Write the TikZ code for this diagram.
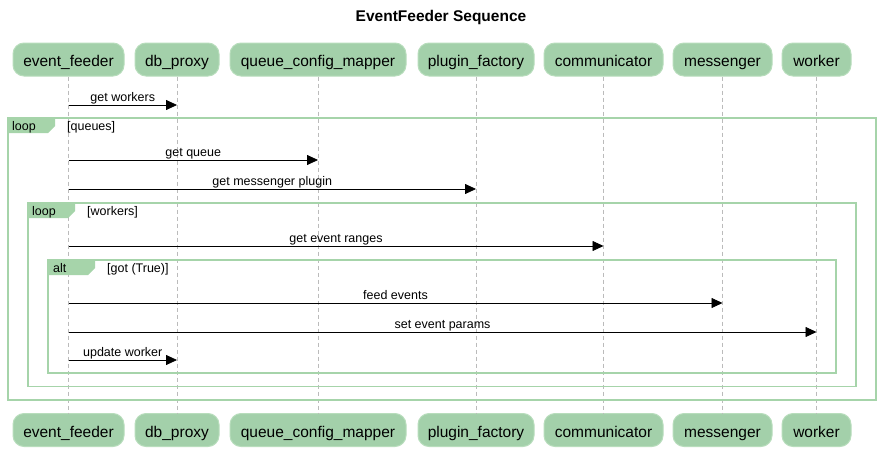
\documentclass[tikz,border=0pt]{standalone}
\usepackage{fontspec}
\setmainfont{Liberation Sans}
\usetikzlibrary{arrows.meta}
\definecolor{partfill}{HTML}{A3D0AA}
\definecolor{partline}{HTML}{B8DDBC}
\definecolor{framecol}{HTML}{A6D4AA}
\definecolor{lifecol}{HTML}{BBBBBB}
\tikzset{
  part/.style={draw=partline, line width=1pt, fill=partfill, rounded corners=11pt,
    minimum height=33pt, inner sep=0pt, text height=16pt, text depth=2pt,
    font=\fontsize{15.5}{15.5}\selectfont},
  lifeline/.style={draw=lifecol, dash pattern=on 4pt off 3pt, line width=0.8pt},
  msg/.style={draw=black, line width=0.8pt, -{Triangle[length=11pt,width=10pt]}},
  msglbl/.style={font=\fontsize{12.5}{12.5}\selectfont, inner sep=0pt, anchor=base},
  frameline/.style={draw=framecol, line width=1.8pt},
  tabfill/.style={fill=framecol},
  framelbl/.style={font=\fontsize{12.5}{12.5}\selectfont, inner sep=0pt, anchor=base west},
}
\begin{document}
\begin{tikzpicture}[x=1pt,y=-1pt]
\useasboundingbox[fill=white] (0,0) rectangle (881,450);
% title
\node[font=\bfseries\fontsize{15.5}{15.5}\selectfont] (title) at (441,17) {EventFeeder Sequence};
% participants top
\node[part, minimum width=111pt] (ef) at (68.5,59.5) {event\_feeder};
\node[part, minimum width=84pt] (db) at (177,59.5) {db\_proxy};
\node[part, minimum width=176pt] (qc) at (318,59.5) {queue\_config\_mapper};
\node[part, minimum width=116pt] (pf) at (476,59.5) {plugin\_factory};
\node[part, minimum width=119pt] (cm) at (603.5,59.5) {communicator};
\node[part, minimum width=99pt] (ms) at (722.5,59.5) {messenger};
\node[part, minimum width=69pt] (wk) at (816.5,59.5) {worker};
% participants bottom
\node[part, minimum width=111pt] (efb) at (68.5,430) {event\_feeder};
\node[part, minimum width=84pt] (dbb) at (177,430) {db\_proxy};
\node[part, minimum width=176pt] (qcb) at (318,430) {queue\_config\_mapper};
\node[part, minimum width=116pt] (pfb) at (476,430) {plugin\_factory};
\node[part, minimum width=119pt] (cmb) at (603.5,430) {communicator};
\node[part, minimum width=99pt] (msb) at (722.5,430) {messenger};
\node[part, minimum width=69pt] (wkb) at (816.5,430) {worker};
% lifelines
\foreach \a/\b in {ef/efb,db/dbb,qc/qcb,pf/pfb,cm/cmb,ms/msb,wk/wkb}
  \draw[lifeline] (\a.south) -- (\b.north);
% frames
% loop queues
\fill[tabfill] (8,118) -- (55,118) -- (55,126) -- (48,133) -- (8,133) -- cycle;
\draw[frameline] (8,118) rectangle (876,400);
\node[framelbl] (l1) at (12,130) {loop};
\node[framelbl] (l1g) at (67,130) {[queues]};
% loop workers
\fill[tabfill] (28,203) -- (75,203) -- (75,211) -- (68,218) -- (28,218) -- cycle;
\draw[frameline] (28,203) rectangle (856,386.5);
\node[framelbl] (l2) at (32,215) {loop};
\node[framelbl] (l2g) at (87,215) {[workers]};
% alt
\fill[tabfill] (48,260) -- (95,260) -- (95,268) -- (88,275) -- (48,275) -- cycle;
\draw[frameline] (48,260) rectangle (836,373);
\node[framelbl] (l3) at (53,272) {alt};
\node[framelbl] (l3g) at (107,272) {[got (True)]};
% message coordinates
\coordinate (m1s) at (68.5,105); \coordinate (m1e) at (177,105);
\coordinate (m2s) at (68.5,160); \coordinate (m2e) at (318,160);
\coordinate (m3s) at (68.5,189); \coordinate (m3e) at (476,189);
\coordinate (m4s) at (68.5,246); \coordinate (m4e) at (603.5,246);
\coordinate (m5s) at (68.5,303); \coordinate (m5e) at (722.5,303);
\coordinate (m6s) at (68.5,332); \coordinate (m6e) at (816.5,332);
\coordinate (m7s) at (68.5,360); \coordinate (m7e) at (177,360);
\draw[msg] (m1s) -- (m1e) node[msglbl, pos=0.5, yshift=4pt] (t1) {get workers};
\draw[msg] (m2s) -- (m2e) node[msglbl, pos=0.5, yshift=4pt] (t2) {get queue};
\draw[msg] (m3s) -- (m3e) node[msglbl, pos=0.5, yshift=4pt] (t3) {get messenger plugin};
\draw[msg] (m4s) -- (m4e) node[msglbl, pos=0.5, yshift=4pt] (t4) {get event ranges};
\draw[msg] (m5s) -- (m5e) node[msglbl, pos=0.5, yshift=4pt] (t5) {feed events};
\draw[msg] (m6s) -- (m6e) node[msglbl, pos=0.5, yshift=4pt] (t6) {set event params};
\draw[msg] (m7s) -- (m7e) node[msglbl, pos=0.5, yshift=4pt] (t7) {update worker};
\end{tikzpicture}
\end{document}
